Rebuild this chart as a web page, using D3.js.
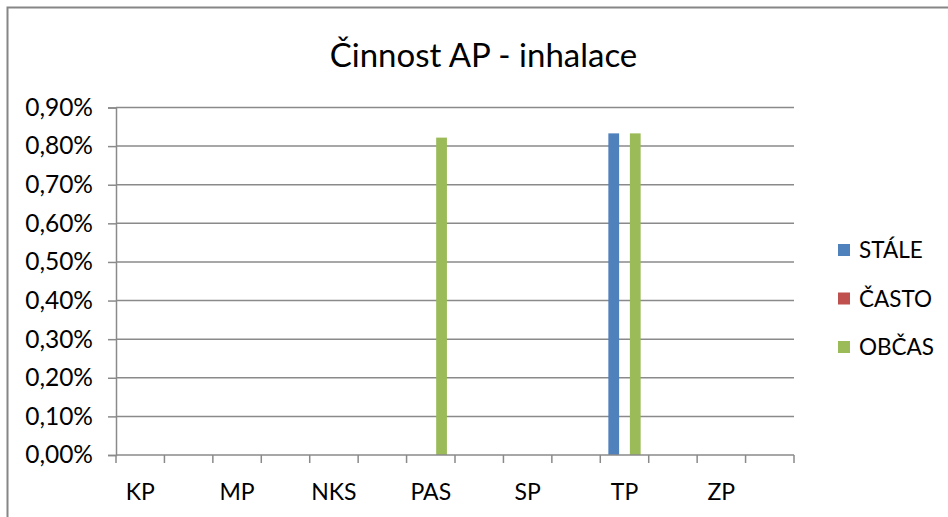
<!DOCTYPE html>
<html>
<head>
<meta charset="utf-8">
<script src="https://cdn.jsdelivr.net/npm/d3@7"></script>
<style>
  html, body { margin: 0; padding: 0; background: #fff; }
  svg { display: block; }
  text { font-family: Lato, "Open Sans", sans-serif; fill: #000; }
</style>
</head>
<body>
<svg id="chart" width="948" height="517"></svg>
<script>
// Categories: 14 slots, labels drawn on every second slot
const categories = ["KP", "", "MP", "", "NKS", "", "PAS", "", "SP", "", "TP", "", "ZP", ""];
const seriesNames = ["STÁLE", "ČASTO", "OBČAS"];
const seriesColors = ["#4F81BD", "#C0504D", "#9BBB59"];
// values in percent
const stale = [0, 0, 0, 0, 0, 0, 0, 0, 0, 0, 0.833, 0, 0, 0];
const casto = [0, 0, 0, 0, 0, 0, 0, 0, 0, 0, 0, 0, 0, 0];
const obcas = [0, 0, 0, 0, 0, 0, 0.822, 0, 0, 0, 0.833, 0, 0, 0];
const yTicks = [0, 0.1, 0.2, 0.3, 0.4, 0.5, 0.6, 0.7, 0.8, 0.9];
const title = "Činnost AP - inhalace";

const series = [stale, casto, obcas];

(function draw() {
  const svg = d3.select("#chart");
  const W = 948, H = 517;
  const plotL = 116, plotR = 794, plotT = 107.5, plotB = 455;

  // outer frame (only top and left edges are visible)
  svg.append("rect")
    .attr("x", 7.5).attr("y", 7.5)
    .attr("width", W + 20).attr("height", H + 20)
    .attr("fill", "#fff").attr("stroke", "#868686").attr("stroke-width", 2);

  const x = d3.scaleBand().domain(d3.range(categories.length)).range([plotL, plotR]).padding(0);
  const y = d3.scaleLinear().domain([0, 0.9]).range([plotB, plotT]);

  // bar geometry: gap width 150% of a bar
  const barW = x.bandwidth() / 4.5;
  const gapW = barW * 0.75;
  const xs = d3.scaleBand().domain(d3.range(series.length))
    .range([gapW, x.bandwidth() - gapW]).padding(0);

  const fmt = v => v.toFixed(2).replace(".", ",") + "%";

  // gridlines
  svg.append("g").selectAll("line").data(yTicks.filter(t => t > 0)).join("line")
    .attr("x1", plotL).attr("x2", plotR)
    .attr("y1", d => y(d)).attr("y2", d => y(d))
    .attr("stroke", "#8a8a8a").attr("stroke-width", 1.5);

  // y axis
  const yAxis = svg.append("g").attr("transform", `translate(${plotL},0)`)
    .call(d3.axisLeft(y).tickValues(yTicks).tickFormat(fmt).tickSize(8).tickPadding(15));
  yAxis.select(".domain").attr("stroke", "#8a8a8a").attr("stroke-width", 1.5);
  yAxis.selectAll(".tick line").attr("stroke", "#8a8a8a").attr("stroke-width", 1.5);
  yAxis.selectAll(".tick text").attr("font-size", 24.5).attr("font-family", "Lato").attr("fill", "#000");

  // bars
  series.forEach((vals, si) => {
    svg.append("g").selectAll("rect").data(vals.map((v, i) => ({ i, v }))).join("rect")
      .attr("x", d => x(d.i) + xs(si))
      .attr("width", xs.bandwidth())
      .attr("y", d => y(d.v))
      .attr("height", d => y(0) - y(d.v))
      .attr("fill", seriesColors[si]);
  });

  // x axis with boundary ticks
  const xg = svg.append("g");
  xg.append("line").attr("x1", plotL).attr("x2", plotR)
    .attr("y1", plotB).attr("y2", plotB)
    .attr("stroke", "#8a8a8a").attr("stroke-width", 1.5);
  const bounds = d3.range(categories.length + 1).map(i => plotL + i * x.step());
  xg.selectAll("line.tk").data(bounds).join("line").attr("class", "tk")
    .attr("x1", d => d).attr("x2", d => d)
    .attr("y1", plotB).attr("y2", plotB + 8)
    .attr("stroke", "#8a8a8a").attr("stroke-width", 1.5);
  xg.selectAll("text").data(categories.map((c, i) => ({ c, i })).filter(d => d.c !== "")).join("text")
    .attr("x", d => x(d.i) + x.bandwidth() / 2)
    .attr("y", 500)
    .attr("text-anchor", "middle")
    .attr("font-size", 23)
    .text(d => d.c);

  // title
  svg.append("text").attr("x", 483.5).attr("y", 67)
    .attr("text-anchor", "middle").attr("font-size", 33)
    .text(title);

  // legend
  const lg = svg.append("g");
  seriesNames.forEach((n, i) => {
    const cy = 250 + i * 48.5;
    lg.append("rect").attr("x", 838).attr("y", cy - 6).attr("width", 12).attr("height", 12)
      .attr("fill", seriesColors[i]);
    lg.append("text").attr("x", 859).attr("y", cy + 8).attr("font-size", 22.5).text(n);
  });
})();
</script>
</body>
</html>
